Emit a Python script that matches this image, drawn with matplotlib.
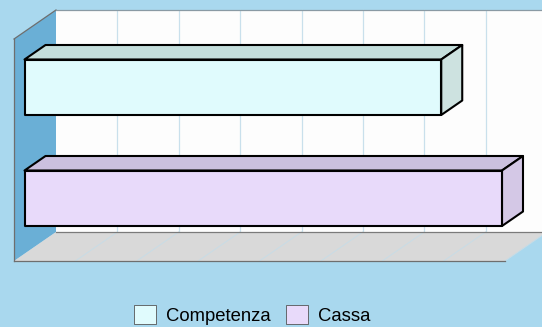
import matplotlib.pyplot as plt
from matplotlib.patches import Polygon, Patch

# dati
categorie = ['Cassa', 'Competenza']
valori = [778, 679]
colori_fronte = ['#e8dafa', '#e0fbfd']
colori_sopra = ['#cbc0df', '#c4dedc']
colori_lato = ['#d4c8e6', '#cde2e0']
legenda = ['Competenza', 'Cassa']
legenda_colori = ['#e0fbfd', '#e8dafa']

XMAX = 800
PASSO = 100
YLO, YHI = -0.5, 1.5
# profondita' 3D in unita' dati
DX = 42 / 491 * XMAX
DY = 29 / 222 * (YHI - YLO)
H = 0.5

plt.rcParams['font.family'] = ['Liberation Sans', 'DejaVu Sans']

fig = plt.figure(figsize=(5.42, 3.27), dpi=100)
fig.patch.set_facecolor('#a9d8ee')
ax = fig.add_axes([14/542, 66/327, 491/542, 222/327])
ax.set_xlim(0, XMAX)
ax.set_ylim(YLO, YHI)
ax.axis('off')


def pt(v, c, d):
    return (v + d * DX, c + d * DY)


def poly(pts, **kw):
    p = Polygon([pt(*q) for q in pts], closed=True, clip_on=False, **kw)
    ax.add_patch(p)


# pareti
xr = XMAX * 1.2
poly([(0, YLO, 1), (xr, YLO, 1), (xr, YHI, 1), (0, YHI, 1)],
     facecolor='#fdfdfd', edgecolor='none', zorder=1)
poly([(0, YLO, 0), (0, YHI, 0), (0, YHI, 1), (0, YLO, 1)],
     facecolor='#6aafd6', edgecolor='none', zorder=1)
poly([(0, YLO, 0), (XMAX, YLO, 0), (XMAX, YLO, 1), (0, YLO, 1)],
     facecolor='#d9d9d9', edgecolor='none', zorder=1)
poly([(XMAX, YLO, 0), (xr, YLO, 0), (xr, YLO, 1), (XMAX, YLO, 1)],
     facecolor='#a9d8ee', edgecolor='none', zorder=1.5)

# griglia
for v in range(PASSO, XMAX + 1, PASSO):
    a, b = pt(v, YLO, 1), pt(v, YHI, 1)
    ax.plot([a[0], b[0]], [a[1], b[1]], color='#c9e0ec', lw=0.9,
            zorder=2, clip_on=False)
    f = pt(v, YLO, 0)
    ax.plot([f[0], a[0]], [f[1], a[1]], color='#c8dce6', lw=0.7,
            zorder=2, clip_on=False)

# bordi
def linea(p1, p2, c='#6e6e6e', lw=0.9):
    a, b = pt(*p1), pt(*p2)
    ax.plot([a[0], b[0]], [a[1], b[1]], color=c, lw=lw, zorder=3,
            clip_on=False)


linea((0, YLO, 0), (0, YHI, 0))
linea((0, YHI, 0), (0, YHI, 1))
linea((0, YHI, 1), (xr, YHI, 1), c='#8a9aa4')
linea((0, YLO, 0), (XMAX, YLO, 0))
linea((0, YLO, 1), (xr, YLO, 1), c='#7a7a7a')

# barre
d0, d1 = 0.25, 0.75
for i, v in enumerate(valori):
    lo, hi = i - H / 2, i + H / 2
    kw = dict(edgecolor='black', lw=1.5, joinstyle='round', zorder=5)
    poly([(0, hi, d0), (v, hi, d0), (v, hi, d1), (0, hi, d1)],
         facecolor=colori_sopra[i], **kw)
    poly([(v, lo, d0), (v, hi, d0), (v, hi, d1), (v, lo, d1)],
         facecolor=colori_lato[i], **kw)
    poly([(0, lo, d0), (v, lo, d0), (v, hi, d0), (0, hi, d0)],
         facecolor=colori_fronte[i], **kw)

handles = [Patch(facecolor=c, edgecolor='#555555', lw=0.6)
           for c in legenda_colori]
fig.legend(handles, legenda, loc='center', ncol=2,
           bbox_to_anchor=(252/542, 12/327), frameon=False, fontsize=13.3,
           handlelength=1.2, handleheight=1.2, handletextpad=0.55,
           columnspacing=0.8, borderpad=0)

fig.savefig('out.png', dpi=100, facecolor=fig.get_facecolor())
